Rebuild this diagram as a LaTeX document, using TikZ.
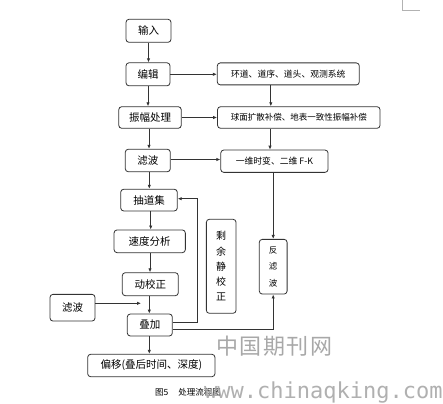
\documentclass[tikz,border=0pt]{standalone}
\usepackage{fontspec}
\setmainfont{Liberation Serif}
\newfontfamily\cjk{Noto Sans CJK SC}
\newfontfamily\wmono{DejaVu Sans Mono}
\usetikzlibrary{arrows.meta,calc}
\definecolor{lc}{HTML}{333333}
\definecolor{wm}{HTML}{A8A8A8}
\begin{document}
\begin{tikzpicture}[x=1pt,y=-1pt,
  box/.style={draw=lc,line width=0.8pt,rounded corners=3pt,inner sep=0pt,align=center,font=\cjk\fontsize{10.5}{12}\selectfont},
  sbox/.style={box,font=\cjk\fontsize{8.8}{10}\selectfont},
  arr/.style={draw=lc,line width=0.8pt,-{Latex[length=4pt,width=3.4pt]}},
  ln/.style={draw=lc,line width=0.8pt}]
\fill[white] (0,0) rectangle (443,403);
\useasboundingbox (0,0) rectangle (443,403);
% corner mark
\draw[gray!60,line width=0.6pt] (402.3,0) -- (402.3,10.3) -- (420,10.3);
% nodes
\node[box,minimum width=45pt,minimum height=23pt] (in) at (148.5,30.8) {输入};
\node[box,minimum width=44pt,minimum height=23pt] (edit) at (148,74.3) {编辑};
\node[sbox,minimum width=142pt,minimum height=22pt] (huan) at (288.3,73.9) {环道、道序、道头、观测系统};
\node[box,minimum width=62.5pt,minimum height=21.6pt] (amp) at (150,117.5) {振幅处理};
\node[sbox,font=\cjk\fontsize{8.5}{10}\selectfont,minimum width=162.5pt,minimum height=21.6pt] (qiu) at (298.8,117.5) {球面扩散补偿、地表一致性振幅补偿};
\node[box,minimum width=45pt,minimum height=22.5pt] (lb) at (147.8,160.5) {滤波};
\node[sbox,minimum width=107.3pt,minimum height=22.3pt] (yw) at (274.4,161.2) {一维时变、二维 F-K};
\node[box,minimum width=56.6pt,minimum height=21.7pt] (chou) at (149,200.1) {抽道集};
\node[box,minimum width=71.3pt,minimum height=22.7pt] (sudu) at (149.7,241.3) {速度分析};
\node[box,minimum width=56pt,minimum height=23pt] (dong) at (150.3,284.2) {动校正};
\node[box,minimum width=45pt,minimum height=26.7pt] (lbl) at (72.5,307.7) {滤波};
\node[box,minimum width=45pt,minimum height=22pt] (die) at (149.8,325) {叠加};
\node[box,minimum width=127.3pt,minimum height=22.4pt] (pian) at (151.3,365.5) {偏移(叠后时间、深度)};
\node[box,font=\cjk\fontsize{10}{15.3}\selectfont,minimum width=29.7pt,minimum height=94pt] (sy) at (221.2,266.3) {剩\\余\\静\\校\\正};
\node[box,font=\cjk\fontsize{8.5}{16.2}\selectfont,minimum width=27.8pt,minimum height=54.7pt] (fan) at (273.2,266.7) {反\\滤\\波};
% connectors
\draw[arr] (in.south) -- (in.south |- edit.north);
\draw[arr] (edit.south) -- (edit.south |- amp.north);
\draw[arr] (edit.east) -- (edit.east -| huan.west);
\draw[arr] ([xshift=-17.5pt]huan.south) coordinate (h1) -- (h1 |- qiu.north);
\draw[arr] (amp.east) -- (amp.east -| qiu.west);
\draw[arr] (amp.south |- amp.south) ++(-1pt,0) coordinate (a1) -- (a1 |- lb.north);
\draw[arr] ([xshift=-28.8pt]qiu.south) coordinate (q1) -- (q1 |- yw.north);
\draw[arr] ([yshift=1pt]lb.east) coordinate (l1) -- (l1 -| yw.west);
\draw[arr] ([xshift=1.5pt]lb.south) coordinate (l2) -- (l2 |- chou.north);
\draw[arr] ([xshift=1.7pt]chou.south) coordinate (c1) -- (c1 |- sudu.north);
\draw[arr] ([xshift=0.3pt]sudu.south) coordinate (s1) -- (s1 |- dong.north);
\draw[arr] ([xshift=-1pt]dong.south) coordinate (d1) -- (d1 |- die.north);
\draw[arr] ([xshift=-0.5pt]die.south) coordinate (e1) -- (e1 |- pian.north);
\draw[arr] (fan.north |- yw.south) -- (fan.north);
\coordinate (lt) at (141,303.3);
\draw[arr] (lbl.east |- lt) -- (lt);
\draw[arr] ([yshift=2.5pt]die.east) -| ([xshift=20pt,yshift=1.4pt]chou.east) -- ([yshift=1.4pt]chou.east);
\draw[arr] ([yshift=-4.3pt]die.east) -| (fan.south);
% caption
\node[anchor=west,inner sep=0pt,font=\cjk\fontsize{8.5}{10}\selectfont] (cap) at (155,392.7) {图5\hspace{10pt}处理流程图};
% watermark
\node[anchor=west,inner sep=0pt,text=wm,font=\cjk\fontsize{22}{24}\selectfont] (wm1) at (216,346) {中\hspace{1.5pt}国\hspace{1.5pt}期\hspace{1.5pt}刊\hspace{1.5pt}网};
\node[anchor=base west,inner sep=0pt,text=wm,opacity=0.9,font=\wmono\fontsize{22}{24}\selectfont] (wm2) at (204,398.5) {www.chinaqking.com};
\end{tikzpicture}
\end{document}
